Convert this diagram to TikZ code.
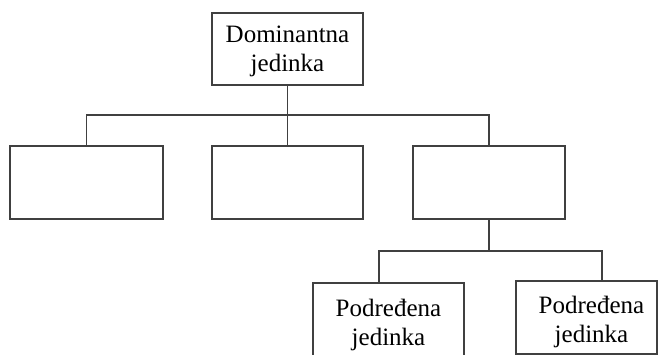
\documentclass[tikz,border=0pt]{standalone}
\usepackage{fontspec}
\setmainfont{Liberation Serif}
\usetikzlibrary{positioning}

\tikzset{
    unit/.style={draw=black!75, line width=1.1pt, minimum width=151pt, minimum height=73pt,
        inner sep=0pt, align=center, font=\fontsize{25}{29}\selectfont},
    link/.style={draw=black!75, line width=1.1pt}
}
\newcommand{\lift}[1]{\rule{0pt}{#1}}

\begin{document}
\begin{tikzpicture}[x=1pt, y=-1pt]
    \useasboundingbox (0,0) rectangle (659,354);
    \clip (0,0) rectangle (659,354);

    % Dominant unit
    \node[unit, minimum height=72pt] (dom) at (287.5,49) {\lift{22pt}Dominantna\\jedinka};

    % Middle row (empty boxes)
    \node[unit, minimum width=153pt] (left) at (86.5,182.5) {};
    \node[unit] (mid) at (287.5,182.5) {};
    \node[unit, minimum width=152pt] (right) at (489,182.5) {};

    % Subordinate units
    \node[unit] (subL) at (388.5,319.5) {\lift{28pt}Podređena\\jedinka};
    \node[unit, minimum width=141pt] (subR) at (586.5,317.5) {\lift{27pt}\hspace*{10pt}Podređena\\\hspace*{10pt}jedinka};

    % Upper bus
    \coordinate (busA) at (86.5,115);
    \coordinate (busC) at (489,115);
    \draw[link] (dom.south) -- (mid.north);
    \draw[link] (left.north) -- (busA) -- (busC) -- (right.north);

    % Lower bus
    \coordinate (fork) at (489,251);
    \coordinate (forkL) at (379,251);
    \coordinate (forkR) at (602,251);
    \draw[link] (right.south) -- (fork);
    \draw[link] (forkL |- subL.north) -- (forkL) -- (forkR) -- (forkR |- subR.north);
\end{tikzpicture}
\end{document}
